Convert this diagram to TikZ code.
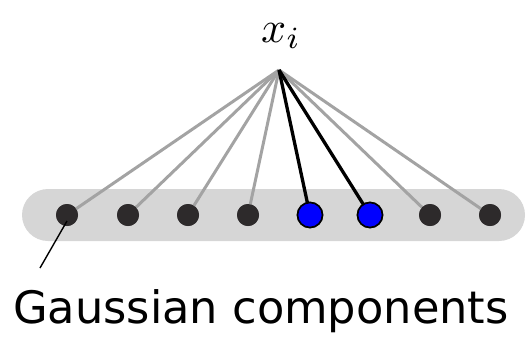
\documentclass[tikz,border=0pt]{standalone}
\usepackage{fontspec}
\usepackage{graphicx}
\setmainfont{DejaVu Sans}
\begin{document}
\begin{tikzpicture}[x=1pt,y=-1pt,
  darkdot/.style={circle,fill=dotdark,draw=none,minimum size=22pt,inner sep=0pt},
  bluedot/.style={circle,fill=blue,draw=black,line width=1.6pt,minimum size=25pt,inner sep=0pt},
  grayline/.style={draw=linegray,line width=3pt},
  blackline/.style={draw=black,line width=3.3pt},
  pointer/.style={draw=black,line width=1.4pt}]
\definecolor{bandgray}{HTML}{D6D6D6}
\definecolor{dotdark}{HTML}{2D2A2B}
\definecolor{linegray}{HTML}{A3A3A3}
\useasboundingbox (0,0) rectangle (529,338);
\fill[bandgray,rounded corners=26pt] (22,189) rectangle (525,241);
\node[anchor=base,inner sep=0pt] (xi) at (281,42) {\scalebox{4.4}{$x_i$}};
\coordinate (apex) at (279,70);
\node[darkdot] (g1) at (67,215) {};
\node[darkdot] (g2) at (128,215) {};
\node[darkdot] (g3) at (188,215) {};
\node[darkdot] (g4) at (248,215) {};
\node[bluedot] (g5) at (310,215) {};
\node[bluedot] (g6) at (370,215) {};
\node[darkdot] (g7) at (430,215) {};
\node[darkdot] (g8) at (490,215) {};
\foreach \i in {1,2,3,4,7,8} \draw[grayline] (apex) -- (g\i.center);
\foreach \i in {5,6} \draw[blackline] (apex) -- (g\i.center);
\foreach \i in {1,2,3,4,7,8} \node[darkdot] at (g\i) {};
\foreach \i in {5,6} \node[bluedot] at (g\i) {};
\coordinate (pend) at (40,268);
\draw[pointer] (g1.center) ++(0,6) -- (pend);
\node[anchor=base west,inner sep=0pt] (label) at (13,323) {\fontsize{44.7}{44.7}\selectfont Gaussian components};
\end{tikzpicture}
\end{document}
